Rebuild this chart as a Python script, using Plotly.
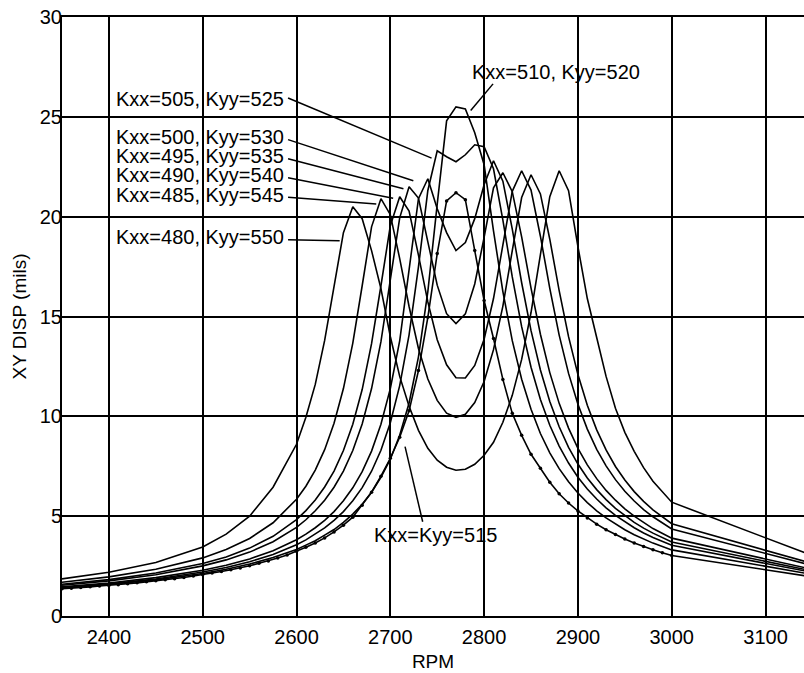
import plotly.graph_objects as go

# Shaft speed grid (RPM) shared by the anisotropic-support curves
rpm = [2350, 2400, 2450, 2500, 2525, 2550, 2575, 2600, 2610, 2620, 2630, 2640,
       2650, 2660, 2670, 2680, 2690, 2700, 2710, 2720, 2730, 2740, 2750, 2760,
       2770, 2780, 2790, 2800, 2810, 2820, 2830, 2840, 2850, 2860, 2870, 2880,
       2890, 2900, 2910, 2920, 2930, 2940, 2950, 2960, 2970, 2980, 3000, 3200]

# XY displacement (mils) for each bearing stiffness pair
disp_480_550 = [1.86, 2.19, 2.68, 3.46, 4.1, 5.0, 6.45, 8.6, 9.95, 11.6, 13.8, 16.5,
                19.2, 20.5, 19.9, 18.3, 16.4, 14.0, 12.0, 10.5, 9.3, 8.4, 7.8, 7.45,
                7.3, 7.35, 7.6, 8.05, 8.7, 9.7, 11.05, 12.85, 15.2, 18.1, 21.0, 22.3,
                21.3, 18.5, 15.9, 13.95, 12.0, 10.4, 9.2, 8.25, 7.43, 6.75, 5.7, 2.13]
disp_485_545 = [1.69, 1.96, 2.34, 2.91, 3.33, 3.88, 4.67, 5.85, 6.5, 7.31, 8.33, 9.65,
                11.39, 13.67, 16.54, 19.49, 20.9, 20.1, 17.9, 15.5, 13.4, 11.87, 10.8, 10.16,
                9.95, 10.1, 10.69, 11.74, 13.34, 15.52, 18.3, 20.96, 22.1, 21.14, 18.87, 16.3,
                13.99, 12.09, 10.55, 9.32, 8.32, 7.49, 6.81, 6.23, 5.74, 5.32, 4.62, 1.96]
disp_490_540 = [1.59, 1.82, 2.15, 2.63, 2.96, 3.40, 3.99, 4.83, 5.28, 5.81, 6.46, 7.26,
                8.29, 9.6, 11.34, 13.64, 16.54, 19.55, 21.0, 20.28, 18.07, 15.73, 13.84, 12.58,
                11.93, 11.92, 12.55, 13.86, 15.9, 18.57, 21.27, 22.3, 21.33, 19.02, 16.41, 14.07,
                12.15, 10.6, 9.36, 8.35, 7.52, 6.83, 6.25, 5.76, 5.33, 4.97, 4.36, 1.91]
disp_495_535 = [1.54, 1.76, 2.07, 2.51, 2.81, 3.20, 3.72, 4.44, 4.82, 5.27, 5.8, 6.45,
                7.26, 8.29, 9.62, 11.39, 13.74, 16.75, 19.94, 21.5, 20.93, 18.74, 16.57, 15.14,
                14.65, 15.13, 16.63, 18.96, 21.44, 22.2, 21.25, 18.99, 16.42, 14.11, 12.19, 10.65,
                9.41, 8.4, 7.57, 6.88, 6.29, 5.8, 5.37, 5.0, 4.67, 4.38, 3.9, 1.81]
disp_500_530 = [1.46, 1.65, 1.92, 2.29, 2.54, 2.86, 3.27, 3.82, 4.1, 4.42, 4.79, 5.23,
                5.77, 6.42, 7.23, 8.26, 9.6, 11.39, 13.78, 17.3, 20.9, 21.9, 20.4, 19.2,
                18.3, 18.7, 19.9, 21.6, 22.8, 21.78, 19.38, 16.69, 14.29, 12.32, 10.74, 9.48,
                8.45, 7.61, 6.91, 6.33, 5.83, 5.39, 5.02, 4.69, 4.4, 4.15, 3.71, 1.77]
disp_505_525 = [1.42, 1.61, 1.85, 2.2, 2.43, 2.72, 3.08, 3.57, 3.81, 4.09, 4.41, 4.79,
                5.23, 5.77, 6.43, 7.25, 8.3, 9.68, 11.54, 14.08, 17.48, 21.31, 23.3, 23.0,
                22.75, 23.1, 23.6, 23.5, 22.4, 19.83, 16.98, 14.49, 12.46, 10.84, 9.55, 8.51,
                7.66, 6.95, 6.36, 5.86, 5.42, 5.04, 4.71, 4.42, 4.16, 3.93, 3.54, 1.73]
disp_510_520 = [1.40, 1.58, 1.81, 2.13, 2.34, 2.6, 2.93, 3.33, 3.55, 3.77, 4.05, 4.33,
                4.69, 5.1, 5.6, 6.2, 6.95, 7.85, 9.05, 10.67, 12.98, 16.25, 20.63, 24.8,
                25.5, 25.4, 24.2, 22.6, 19.29, 16.25, 13.79, 11.86, 10.35, 9.14, 8.17, 7.38,
                6.72, 6.16, 5.68, 5.27, 4.91, 4.6, 4.32, 4.07, 3.85, 3.65, 3.31, 1.67]

# Isotropic support case, sampled every 10 RPM (plotted with point markers)
rpm_515 = [2350, 2360, 2370, 2380, 2390, 2400, 2410, 2420, 2430, 2440, 2450,
           2460, 2470, 2480, 2490, 2500, 2510, 2520, 2530, 2540, 2550, 2560,
           2570, 2580, 2590, 2600, 2610, 2620, 2630, 2640, 2650, 2660, 2670,
           2680, 2690, 2700, 2710, 2720, 2730, 2740, 2750, 2760, 2770, 2780,
           2790, 2800, 2810, 2820, 2830, 2840, 2850, 2860, 2870, 2880, 2890,
           2900, 2910, 2920, 2930, 2940, 2950, 2960, 2970, 2980, 2990, 3000, 3200]
disp_515_515 = [1.37, 1.39, 1.43, 1.46, 1.50, 1.53, 1.57, 1.62, 1.66, 1.71, 1.76,
                1.81, 1.87, 1.93, 2.0, 2.07, 2.15, 2.23, 2.32, 2.41, 2.52, 2.64,
                2.76, 2.91, 3.06, 3.24, 3.44, 3.66, 3.91, 4.21, 4.55, 4.95, 5.55,
                6.2, 7.0, 7.9, 8.95, 10.28, 12.29, 14.96, 18.15, 20.79, 21.2, 20.85,
                18.3, 15.8, 13.9, 11.85, 10.15, 9.05, 8.1, 7.4, 6.7, 6.12, 5.66,
                5.26, 4.91, 4.6, 4.32, 4.08, 3.86, 3.66, 3.48, 3.32, 3.17, 3.03, 1.6]

curves = [disp_480_550, disp_485_545, disp_490_540, disp_495_535,
          disp_500_530, disp_505_525, disp_510_520]

# Callout text, text anchor (x, y) and pointer (start, tip) in data units
callouts = [
    ("Kxx=505, Kyy=525", (2405, 25.9), (2591, 25.94), (2744, 22.93)),
    ("Kxx=500, Kyy=530", (2405, 23.97), (2591, 23.86), (2724.5, 21.8)),
    ("Kxx=495, Kyy=535", (2405, 23.03), (2591, 22.9), (2714, 21.4)),
    ("Kxx=490, Kyy=540", (2405, 22.07), (2591, 21.95), (2703, 20.92)),
    ("Kxx=485, Kyy=545", (2405, 21.1), (2591, 20.97), (2685, 20.64)),
    ("Kxx=480, Kyy=550", (2405, 18.96), (2591, 18.84), (2646, 18.8)),
]
top_label = ("Kxx=510, Kyy=520", (2784.5, 27.23), (2809.5, 26.65), (2785.7, 25.32))
iso_label = ("Kxx=Kyy=515", (2680.5, 4.06), (2734.5, 4.72), (2715.7, 8.48))

FONT = "Liberation Sans, Arial, Helvetica, sans-serif"
INK = "black"

fig = go.Figure()
for ys in curves:
    fig.add_trace(go.Scatter(x=rpm, y=ys, mode="lines",
                             line=dict(color=INK, width=1.6),
                             showlegend=False, hoverinfo="skip"))
fig.add_trace(go.Scatter(x=rpm_515, y=disp_515_515, mode="lines+markers",
                         line=dict(color=INK, width=1.6),
                         marker=dict(color=INK, size=3.5),
                         showlegend=False, hoverinfo="skip"))

annotations = []
shapes = []
for text, (tx, ty), (sx, sy), (ex, ey) in callouts + [top_label, iso_label]:
    annotations.append(dict(x=tx, y=ty, xref="x", yref="y", text=text,
                            showarrow=False, xanchor="left", yanchor="middle",
                            font=dict(family=FONT, size=20, color=INK)))
    shapes.append(dict(type="line", xref="x", yref="y", x0=sx, y0=sy, x1=ex, y1=ey,
                       line=dict(color=INK, width=1.5), layer="above"))

fig.update_layout(
    width=804, height=673,
    margin=dict(l=62, r=0, t=17, b=57),
    paper_bgcolor="white", plot_bgcolor="white",
    font=dict(family=FONT, size=20, color=INK),
    annotations=annotations, shapes=shapes,
    xaxis=dict(range=[2350, 3141], tickvals=list(range(2400, 3101, 100)),
               showgrid=True, gridcolor=INK, gridwidth=1.5,
               showline=True, linecolor=INK, linewidth=2, mirror=True,
               zeroline=False, ticks="", ticklabelstandoff=2,
               tickfont=dict(family=FONT, size=20, color=INK),
               title=dict(text="RPM", standoff=8,
                          font=dict(family=FONT, size=19, color=INK))),
    yaxis=dict(range=[0, 30], tickvals=list(range(0, 31, 5)),
               showgrid=True, gridcolor=INK, gridwidth=1.5,
               showline=True, linecolor=INK, linewidth=2,
               zeroline=False, ticks="", ticklabelstandoff=-6,
               tickfont=dict(family=FONT, size=20, color=INK),
               title=dict(text="XY DISP (mils)", standoff=8,
                          font=dict(family=FONT, size=19, color=INK))),
)

fig.write_html("out.html")
